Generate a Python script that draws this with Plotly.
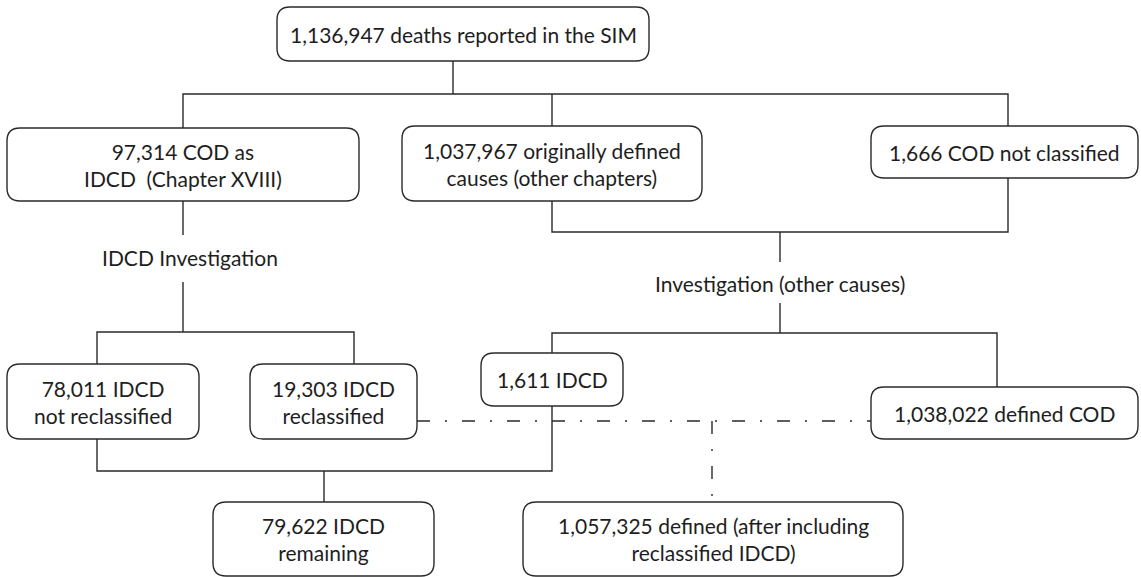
import plotly.graph_objects as go

# ---- data ----
counts = ["1,136,947", "97,314", "1,037,967", "1,666", "78,011", "19,303",
          "1,611", "1,038,022", "79,622", "1,057,325"]
labels = [
    "{} deaths reported in the SIM",
    "{} COD as<br>IDCD  (Chapter XVIII)",
    "{} originally defined<br>causes (other chapters)",
    "{} COD not classified",
    "{} IDCD<br>not reclassified",
    "{} IDCD<br>reclassified",
    "{} IDCD",
    "{} defined COD",
    "{} IDCD<br>remaining",
    "{} defined (after including<br>reclassified IDCD)",
]
step_labels = ["IDCD Investigation", "Investigation (other causes)"]

# ---- layout (pixel geometry) ----
W, H = 1141, 577
boxes = [  # x0, y0, x1, y1
    (277, 7, 649, 61),
    (7, 128, 359, 201),
    (402, 126, 702, 201),
    (871, 126, 1138, 178),
    (7, 364, 199, 439),
    (250, 364, 417, 439),
    (481, 353, 623, 406),
    (871, 387, 1138, 439),
    (213, 502, 434, 576),
    (523, 502, 903, 576),
]
step_pos = [(190, 257), (780, 283)]

solid = [
    [(453, 61), (453, 94)],
    [(183, 128), (183, 94), (1008, 94), (1008, 126)],
    [(552, 94), (552, 126)],
    [(183, 201), (183, 235)],
    [(183, 282), (183, 332)],
    [(97, 364), (97, 332), (354, 332), (354, 364)],
    [(552, 201), (552, 232), (1008, 232), (1008, 178)],
    [(780, 232), (780, 262)],
    [(780, 303), (780, 333)],
    [(552, 353), (552, 333), (997, 333), (997, 387)],
    [(97, 439), (97, 471), (552, 471), (552, 406)],
    [(324, 471), (324, 502)],
]
dashed = [
    [(417, 421), (871, 421)],
    [(712, 421), (712, 502)],
]

LINE = "#2a2a2a"
TEXT = "#1e1e1e"
FONT = "Lato"
FS = 21


def rrect(x0, y0, x1, y1, r=13):
    return (f"M {x0+r},{y0} L {x1-r},{y0} Q {x1},{y0} {x1},{y0+r} "
            f"L {x1},{y1-r} Q {x1},{y1} {x1-r},{y1} L {x0+r},{y1} "
            f"Q {x0},{y1} {x0},{y1-r} L {x0},{y0+r} Q {x0},{y0} {x0+r},{y0} Z")


fig = go.Figure()
shapes = []
for (x0, y0, x1, y1) in boxes:
    shapes.append(dict(type="path", path=rrect(x0, y0, x1, y1), xref="x", yref="y",
                       line=dict(color=LINE, width=1.4), fillcolor="white", layer="above"))

for seg in solid:
    fig.add_trace(go.Scatter(x=[p[0] for p in seg], y=[p[1] for p in seg], mode="lines",
                             line=dict(color=LINE, width=1.4), hoverinfo="skip", showlegend=False))
for seg in dashed:
    fig.add_trace(go.Scatter(x=[p[0] for p in seg], y=[p[1] for p in seg], mode="lines",
                             line=dict(color=LINE, width=1.4, dash="13px,15px,2px,15px"),
                             hoverinfo="skip", showlegend=False))

annotations = []
for c, lab, (x0, y0, x1, y1) in zip(counts, labels, boxes):
    annotations.append(dict(x=(x0 + x1) / 2, y=(y0 + y1) / 2, xref="x", yref="y",
                            text=lab.format(c), showarrow=False,
                            font=dict(family=FONT, size=FS, color=TEXT)))
for t, (x, y) in zip(step_labels, step_pos):
    annotations.append(dict(x=x, y=y, xref="x", yref="y", text=t, showarrow=False,
                            font=dict(family=FONT, size=FS, color=TEXT)))

fig.update_layout(
    width=W, height=H, margin=dict(l=0, r=0, t=0, b=0),
    paper_bgcolor="white", plot_bgcolor="white",
    xaxis=dict(range=[0, W], visible=False, fixedrange=True),
    yaxis=dict(range=[H, 0], visible=False, fixedrange=True),
    shapes=shapes, annotations=annotations,
)
fig.write_html("out.html", config={"displayModeBar": False})

# remove default body margin so the figure sits at the page origin
with open("out.html", encoding="utf-8") as f:
    html = f.read()
html = html.replace("<body>", '<body style="margin:0;padding:0;overflow:hidden">', 1)
with open("out.html", "w", encoding="utf-8") as f:
    f.write(html)
